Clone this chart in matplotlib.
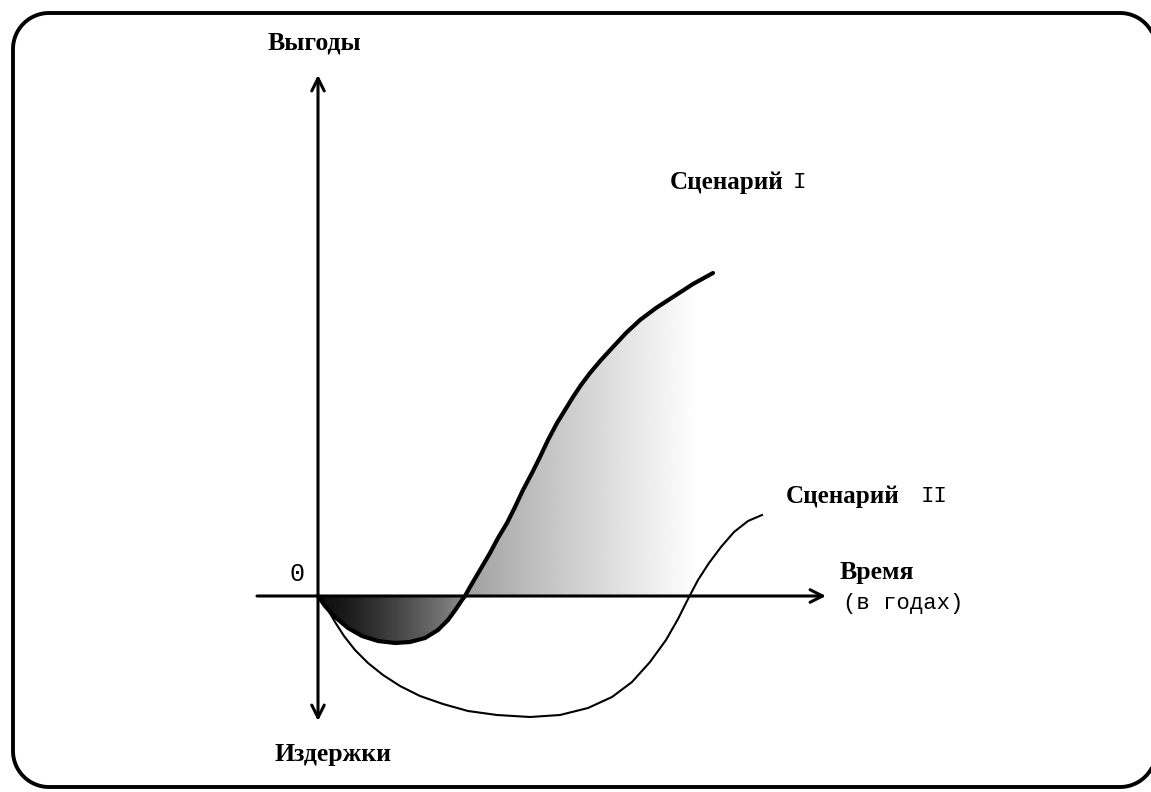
import numpy as np
import matplotlib
matplotlib.use("Agg")
import matplotlib.pyplot as plt
from matplotlib.patches import Polygon

# Scenario I (thick curve): years vs. benefit (+) / cost (-)
scen1_t = [0, 0.14, 0.34, 0.60, 0.88, 1.20, 1.54, 1.84, 2.14, 2.40, 2.60, 2.76, 2.88, 2.94,
           3.04, 3.24, 3.44, 3.60, 3.78, 3.94, 4.10, 4.28, 4.44, 4.60, 4.78, 4.94, 5.10,
           5.26, 5.44, 5.66, 5.90, 6.16, 6.44, 6.76, 7.10, 7.50, 7.90]
scen1_v = [0, -0.20, -0.42, -0.64, -0.80, -0.90, -0.94, -0.92, -0.84, -0.68, -0.48, -0.26, -0.08, 0,
           0.18, 0.52, 0.86, 1.16, 1.46, 1.78, 2.12, 2.46, 2.78, 3.12, 3.46, 3.72, 3.98,
           4.22, 4.46, 4.72, 4.98, 5.26, 5.52, 5.76, 5.98, 6.24, 6.46]

# Scenario II (thin curve)
scen2_t = [0, 0.08, 0.20, 0.34, 0.52, 0.74, 1.00, 1.30, 1.64, 2.04, 2.50, 3.00, 3.58, 4.24,
           4.84, 5.40, 5.88, 6.28, 6.64, 6.96, 7.20, 7.40, 7.60, 7.82, 8.06, 8.32, 8.60, 8.88]
scen2_v = [0, -0.10, -0.28, -0.52, -0.80, -1.08, -1.34, -1.58, -1.80, -2.00, -2.16, -2.30, -2.38, -2.42,
           -2.38, -2.24, -2.02, -1.72, -1.32, -0.88, -0.46, -0.06, 0.32, 0.66, 0.98, 1.28, 1.50, 1.62]

cross1 = 13  # index where scenario I crosses zero

ser = "Liberation Serif"
mono = "Liberation Mono"

fig = plt.figure(figsize=(11.51, 7.92), dpi=100)
ax = fig.add_axes([0, 0, 1, 1])
ax.set_xlim(-6.36, 16.66)
ax.set_ylim(-3.92, 11.92)
ax.axis("off")

# rounded frame (right side runs just off the picture)
x0, x1, y0, y1, r = -6.1, 16.76, -3.82, 11.66, 0.72
a = np.linspace(0, np.pi / 2, 25)
corners = [(x1 - r, y1 - r, a), (x0 + r, y1 - r, a + np.pi / 2),
           (x0 + r, y0 + r, a + np.pi), (x1 - r, y0 + r, a + 1.5 * np.pi)]
fx, fy = [], []
for cx, cy, ang in corners:
    fx.extend(cx + r * np.cos(ang))
    fy.extend(cy + r * np.sin(ang))
ax.add_patch(Polygon(np.column_stack([fx, fy]), closed=True, fc="none", ec="black",
                     lw=2.8, zorder=1))

t1 = np.array(scen1_t)
v1 = np.array(scen1_v)

# dark area (losses of scenario I)
dark = Polygon(np.column_stack([t1[:cross1 + 1], v1[:cross1 + 1]]), closed=True,
               fc="none", ec="none")
ax.add_patch(dark)
g = np.linspace(0.0, 1.0, 200) ** 1.3
img = np.tile(0.05 + 0.5 * g, (10, 1))
im = ax.imshow(img, extent=(0, 2.94, -1.0, 0), cmap="gray", vmin=0, vmax=1,
               aspect="auto", zorder=2, interpolation="bilinear")
im.set_clip_path(dark)

# light stippled area (gains of scenario I)
pts = list(zip(t1[cross1:], v1[cross1:])) + [(7.9, 0)]
light = Polygon(pts, closed=True, fc="none", ec="none")
ax.add_patch(light)
g2 = np.linspace(0.0, 1.0, 300) ** 0.9
img2 = np.tile(0.62 + 0.38 * g2, (10, 1))
im2 = ax.imshow(img2, extent=(2.94, 7.6, 0, 6.5), cmap="gray", vmin=0, vmax=1,
                aspect="auto", zorder=2, interpolation="bilinear")
im2.set_clip_path(light)

# axes with arrows
arr = dict(arrowstyle="->,head_length=0.9,head_width=0.45", lw=2.2, color="black",
           shrinkA=0, shrinkB=0)
ax.annotate("", xy=(10.16, 0), xytext=(-1.22, 0), arrowprops=arr, zorder=4)
ax.annotate("", xy=(0, 10.42), xytext=(0, 0), arrowprops=arr, zorder=4)
ax.annotate("", xy=(0, -2.5), xytext=(0, 0), arrowprops=arr, zorder=4)

# curves
ax.plot(scen1_t, scen1_v, color="black", lw=3.0, solid_capstyle="round",
        solid_joinstyle="round", zorder=5)
ax.plot(scen2_t, scen2_v, color="black", lw=1.5, solid_joinstyle="round", zorder=5)

# labels
ax.text(-0.08, 11.06, "Выгоды", family=ser, weight="bold", fontsize=18.5,
        ha="center", va="center")
ax.text(0.3, -3.16, "Издержки", family=ser, weight="bold", fontsize=18.5,
        ha="center", va="center")
ax.text(-0.42, 0.44, "0", family=mono, fontsize=18, ha="center", va="center")
ax.text(7.04, 8.26, "Сценарий", family=ser, weight="bold", fontsize=18,
        ha="left", va="center")
ax.text(9.5, 8.26, "I", family=mono, fontsize=16, ha="left", va="center")
ax.text(9.36, 1.98, "Сценарий", family=ser, weight="bold", fontsize=18,
        ha="left", va="center")
ax.text(12.06, 1.98, "II", family=mono, fontsize=16, ha="left", va="center")
ax.text(10.44, 0.46, "Время", family=ser, weight="bold", fontsize=18.5,
        ha="left", va="center")
ax.text(10.5, -0.14, "(в годах)", family=mono, fontsize=16, ha="left", va="center")

fig.savefig("out.png", dpi=100)
